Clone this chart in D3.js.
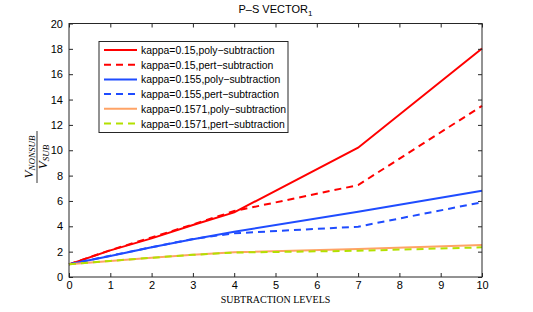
<html>
<head>
<meta charset="utf-8" />
<style>
  html, body { margin: 0; padding: 0; background: #fff; }
  svg { display: block; }
  .tick text { font-family: "Liberation Sans", Arial, sans-serif; font-size: 11px; fill: #000; }
</style>
</head>
<body>
<div id="graph"></div>
<script src="https://cdn.jsdelivr.net/npm/d3@7"></script>
<script>
// subtraction levels
var levels = [0, 1, 2, 3, 4, 7, 10];

// ratios
var k150poly = [1, 2.1, 3.05, 4.1, 5.1, 10.2, 18.03];
var k150pert = [1, 2.12, 3.12, 4.15, 5.2, 7.25, 13.5];
var k155poly = [1, 1.65, 2.35, 2.97, 3.57, 5.15, 6.8];
var k155pert = [1, 1.68, 2.35, 3.0, 3.45, 3.97, 5.9];
var k1571poly = [1, 1.27, 1.52, 1.75, 1.95, 2.2, 2.52];
var k1571pert = [1, 1.27, 1.52, 1.75, 1.93, 2.07, 2.34];

var seriesNames = [
  "kappa=0.15,poly\u2212subtraction",
  "kappa=0.15,pert\u2212subtraction",
  "kappa=0.155,poly\u2212subtraction",
  "kappa=0.155,pert\u2212subtraction",
  "kappa=0.1571,poly\u2212subtraction",
  "kappa=0.1571,pert\u2212subtraction"
];
var seriesValues = [k150poly, k150pert, k155poly, k155pert, k1571poly, k1571pert];
var seriesColors = ["#ff0000", "#ff0000", "#1f4cff", "#1f4cff", "#ffa366", "#b3e000"];
var seriesDashed = [false, true, false, true, false, true];

var xTicks = [0,1,2,3,4,5,6,7,8,9,10];
var yTicks = [0,2,4,6,8,10,12,14,16,18,20];

var width = 533, height = 312;
var margin = {top: 23.5, left: 69, right: 51, bottom: 35};

var svg = d3.select("#graph").append("svg")
    .attr("width", width).attr("height", height);

var x = d3.scaleLinear().domain([0, 10]).range([margin.left, width - margin.right]);
var y = d3.scaleLinear().domain([0, 20]).range([height - margin.bottom, margin.top]);

var line = d3.line()
    .x(function(d) { return x(d[0]); })
    .y(function(d) { return y(d[1]); });

var lines = svg.append("g").attr("class", "lines");
seriesValues.forEach(function(vals, i) {
  lines.append("path")
      .datum(levels.map(function(l, j) { return [l, vals[j]]; }))
      .attr("d", line)
      .attr("fill", "none")
      .attr("stroke", seriesColors[i])
      .attr("stroke-width", 2)
      .style("stroke-dasharray", seriesDashed[i] ? "7,5" : null);
});

// axes, ticks pointing inwards like matlab
var tickLen = 4;
svg.append("g")
    .attr("transform", "translate(0," + y(0) + ")")
    .call(d3.axisBottom(x).tickValues(xTicks).tickSize(-tickLen).tickPadding(4).tickSizeOuter(0))
    .call(function(g) { g.select(".domain").remove(); });
svg.append("g")
    .attr("transform", "translate(0," + y(20) + ")")
    .call(d3.axisTop(x).tickValues(xTicks).tickSize(-tickLen).tickFormat("").tickSizeOuter(0))
    .call(function(g) { g.select(".domain").remove(); });
svg.append("g")
    .attr("transform", "translate(" + x(0) + ",0)")
    .call(d3.axisLeft(y).tickValues(yTicks).tickSize(-tickLen).tickPadding(6).tickSizeOuter(0))
    .call(function(g) { g.select(".domain").remove(); });
svg.append("g")
    .attr("transform", "translate(" + x(10) + ",0)")
    .call(d3.axisRight(y).tickValues(yTicks).tickSize(-tickLen).tickFormat("").tickSizeOuter(0))
    .call(function(g) { g.select(".domain").remove(); });
svg.selectAll(".tick line").attr("stroke", "#262626");

svg.append("rect")
    .attr("x", x(0)).attr("y", y(20))
    .attr("width", x(10) - x(0)).attr("height", y(0) - y(20))
    .attr("fill", "none").attr("stroke", "#262626").attr("stroke-width", 1);

// title
var title = svg.append("text")
    .attr("x", (x(0) + x(10)) / 2).attr("y", 13)
    .attr("text-anchor", "middle")
    .style("font-family", "Liberation Sans, Arial, sans-serif")
    .style("font-size", "11px");
title.append("tspan").text("P\u2013S VECTOR");
title.append("tspan").attr("dy", 3).style("font-size", "8px").text("1");

// x label
svg.append("text")
    .attr("x", (x(0) + x(10)) / 2).attr("y", 303)
    .attr("text-anchor", "middle")
    .style("font-family", "Liberation Serif, Times New Roman, serif")
    .style("font-size", "10px")
    .text("SUBTRACTION LEVELS");

// y label: fraction
var yl = svg.append("g").attr("transform", "translate(37,157) rotate(-90)");
yl.append("line").attr("x1", -26).attr("x2", 26).attr("y1", 0).attr("y2", 0)
    .attr("stroke", "#000").attr("stroke-width", 0.8);
var num = yl.append("text").attr("x", 0).attr("y", -4).attr("text-anchor", "middle")
    .style("font-family", "Liberation Serif, Times New Roman, serif").style("font-style", "italic");
num.append("tspan").style("font-size", "13px").text("V");
num.append("tspan").attr("dy", 2).style("font-size", "9px").text("NONSUB");
var den = yl.append("text").attr("x", 0).attr("y", 10).attr("text-anchor", "middle")
    .style("font-family", "Liberation Serif, Times New Roman, serif").style("font-style", "italic");
den.append("tspan").style("font-size", "13px").text("V");
den.append("tspan").attr("dy", 2).style("font-size", "9px").text("SUB");

// legend
var lg = svg.append("g").attr("class", "legend");
var lx = 99, ly = 41.5, lw = 189, lh = 91, rowH = 14.7;
lg.append("rect").attr("x", lx).attr("y", ly).attr("width", lw).attr("height", lh)
    .attr("fill", "#fff").attr("stroke", "#262626").attr("stroke-width", 1);
seriesNames.forEach(function(name, i) {
  var ry = ly + 8.5 + i * rowH;
  lg.append("line")
      .attr("x1", lx + 5).attr("x2", lx + 38).attr("y1", ry).attr("y2", ry)
      .attr("stroke", seriesColors[i]).attr("stroke-width", 2)
      .style("stroke-dasharray", seriesDashed[i] ? "7,5" : null);
  lg.append("text")
      .attr("x", lx + 42).attr("y", ry + 4)
      .style("font-family", "Liberation Sans, Arial, sans-serif")
      .style("font-size", "10.4px")
      .text(name);
});
</script>
</body>
</html>
